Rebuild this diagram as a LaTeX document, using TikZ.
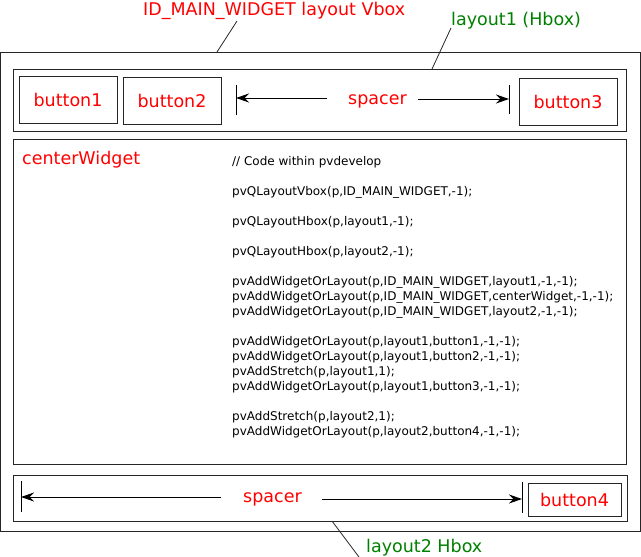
\documentclass[tikz,border=0pt]{standalone}
\usepackage{fontspec}
\setmainfont{DejaVu Sans}
\usetikzlibrary{arrows.meta}

\definecolor{lblred}{RGB}{255,0,0}
\definecolor{lblgreen}{RGB}{0,128,0}

\tikzset{
  frame/.style={draw=black!85,line width=1pt},
  btn/.style={frame,minimum width=98pt,minimum height=47pt,inner sep=0pt,text=lblred,font=\fontsize{17.5}{20}\selectfont},
  redlbl/.style={text=lblred,font=\fontsize{17.5}{20}\selectfont,inner sep=0pt,anchor=base west},
  greenlbl/.style={text=lblgreen,font=\fontsize{17.5}{20}\selectfont,inner sep=0pt,anchor=base west},
  leader/.style={draw=black!85,line width=0.8pt},
  bar/.style={draw=black,line width=1pt},
  stretch/.style={draw=black,line width=1pt,-{Stealth[length=13pt,width=9pt,inset=4.5pt]}}
}

\begin{document}
\begin{tikzpicture}[x=1pt,y=1pt]
\useasboundingbox (0,0) rectangle (641,-557);
% outer vbox and its three parts
\draw[frame] (0,-52) rectangle (640,-531);
\draw[frame] (13,-69) rectangle (626,-131);
\draw[frame] (13,-139) rectangle (626,-464);
\draw[frame] (13,-475) rectangle (627,-521);
% labels above and below
\node[redlbl] (vboxlbl) at (143,-15) {ID\_MAIN\_WIDGET layout Vbox};
\node[greenlbl] (hbox1lbl) at (451,-25) {layout1 (Hbox)};
\node[greenlbl] (hbox2lbl) at (366,-552) {layout2 Hbox};
\coordinate (vboxpin) at (217,-52);
\coordinate (hbox1pin) at (432,-69);
\coordinate (hbox2pin) at (332,-521);
\draw[leader] (237,-21) -- (vboxpin);
\draw[leader] (451,-28) -- (hbox1pin);
\draw[leader] (359,-557) -- (hbox2pin);
% layout1
\node[btn] (button1) at (68,-99.5) {button1};
\node[btn] (button2) at (172,-100.5) {button2};
\node[btn] (button3) at (568,-101.5) {button3};
\node[redlbl] (spacer1) at (348,-104) {spacer};
\coordinate (sp1left) at (236,-98);
\coordinate (sp1right) at (509,-99);
\draw[bar] (236,-85) -- (236,-115);
\draw[bar] (509,-85) -- (509,-114);
\draw[stretch] (327,-98) -- (sp1left);
\draw[stretch] (418,-99) -- (sp1right);
% centerWidget
\node[redlbl] (center) at (22,-164) {centerWidget};
\node[anchor=north west,inner sep=0pt,align=left,font=\fontsize{12}{15}\selectfont] (code) at (232,-156) {%
// Code within pvdevelop\\[15pt]
pvQLayoutVbox(p,ID\_MAIN\_WIDGET,-1);\\[15pt]
pvQLayoutHbox(p,layout1,-1);\\[15pt]
pvQLayoutHbox(p,layout2,-1);\\[15pt]
pvAddWidgetOrLayout(p,ID\_MAIN\_WIDGET,layout1,-1,-1);\\
pvAddWidgetOrLayout(p,ID\_MAIN\_WIDGET,centerWidget,-1,-1);\\
pvAddWidgetOrLayout(p,ID\_MAIN\_WIDGET,layout2,-1,-1);\\[15pt]
pvAddWidgetOrLayout(p,layout1,button1,-1,-1);\\
pvAddWidgetOrLayout(p,layout1,button2,-1,-1);\\
pvAddStretch(p,layout1,1);\\
pvAddWidgetOrLayout(p,layout1,button3,-1,-1);\\[15pt]
pvAddStretch(p,layout2,1);\\
pvAddWidgetOrLayout(p,layout2,button4,-1,-1);};
% layout2
\node[btn,minimum width=93pt,minimum height=33pt] (button4) at (574.5,-499.5) {button4};
\node[redlbl] (spacer2) at (243,-502) {spacer};
\coordinate (sp2left) at (21,-497);
\coordinate (sp2right) at (522,-499);
\draw[bar] (21,-481) -- (21,-512);
\draw[bar] (522,-482) -- (522,-513);
\draw[stretch] (221,-497) -- (sp2left);
\draw[stretch] (322,-499) -- (sp2right);
\end{tikzpicture}
\end{document}
